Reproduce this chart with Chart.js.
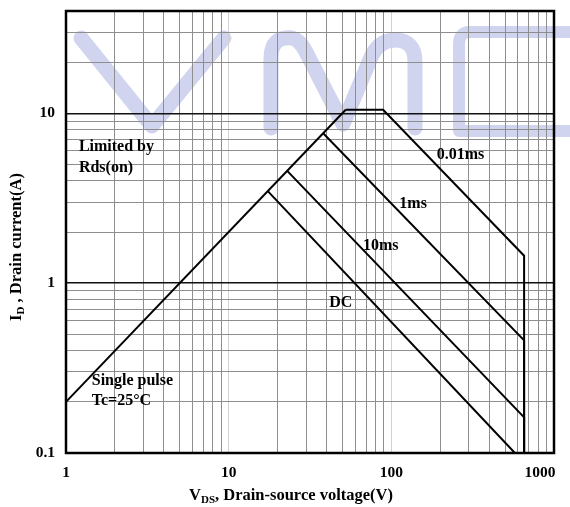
<!DOCTYPE html>
<html>
<head>
<meta charset="utf-8">
<script src="https://cdn.jsdelivr.net/npm/chart.js@4.4.1/dist/chart.umd.min.js"></script>
<style>
  html, body { margin: 0; padding: 0; background: #fff; }
  #wrap { width: 570px; height: 507px; }
</style>
</head>
<body>
<div id="wrap"><canvas id="soa"></canvas></div>
<script>
// safe operating area
const xTicks = [1, 2, 3, 4, 5, 6, 7, 8, 9, 10, 20, 30, 40, 50, 60, 70, 80, 90, 100,
  200, 300, 400, 500, 600, 700, 800, 900, 1000];
const yTicks = [0.1, 0.2, 0.3, 0.4, 0.5, 0.6, 0.7, 0.8, 0.9, 1, 2, 3, 4, 5, 6, 7, 8, 9, 10, 20, 30, 40];
const xLabels = [1, 10, 100, 1000];
const yLabels = [0.1, 1, 10];

const rdsV = [1, 52.4];
const rdsI = [0.2, 10.48];
const p001V = [52.4, 89, 655, 655];
const p001I = [10.48, 10.48, 1.45, 0.1];
const p1msV = [38.1, 655, 655];
const p1msI = [7.62, 0.46, 0.1];
const p10msV = [22.9, 655, 655];
const p10msI = [4.58, 0.162, 0.1];
const dcV = [17.4, 575];
const dcI = [3.48, 0.1];

const notes = [
  { text: 'Limited by', v: 1.2, i: 6.34 },
  { text: 'Rds(on)', v: 1.2, i: 4.77 },
  { text: '0.01ms', v: 190, i: 5.69 },
  { text: '1ms', v: 112, i: 2.93 },
  { text: '10ms', v: 67, i: 1.66 },
  { text: 'DC', v: 41.5, i: 0.763 },
  { text: 'Single pulse', v: 1.44, i: 0.267 },
  { text: 'Tc=25\u00B0C', v: 1.44, i: 0.204 }
];

const pts = (xs, ys) => xs.map((x, k) => ({ x: x, y: ys[k] }));
const serif = '"Liberation Serif", "Times New Roman", serif';

function line(xs, ys) {
  return {
    data: pts(xs, ys),
    borderColor: '#000',
    borderWidth: 2,
    pointRadius: 0,
    tension: 0,
    fill: false
  };
}

// light "VMC" watermark behind the grid
const watermark = {
  id: 'watermark',
  beforeDraw(chart) {
    const c = chart.ctx;
    c.save();
    c.strokeStyle = '#d0d4ef';
    c.lineCap = 'round';
    c.lineJoin = 'round';
    c.lineWidth = 15;
    c.beginPath();
    c.moveTo(81, 38);
    c.lineTo(152, 126);
    c.lineTo(224, 38);
    c.stroke();
    c.beginPath();
    c.moveTo(271, 128);
    c.lineTo(271, 58);
    c.quadraticCurveTo(271, 36, 292, 38);
    c.quadraticCurveTo(300, 40, 306, 52);
    c.lineTo(343, 124);
    c.lineTo(372, 55);
    c.quadraticCurveTo(380, 40, 395, 40);
    c.quadraticCurveTo(415, 40, 415, 62);
    c.lineTo(415, 128);
    c.stroke();
    c.lineWidth = 12;
    c.lineCap = 'butt';
    c.beginPath();
    c.moveTo(575, 32);
    c.lineTo(470, 32);
    c.quadraticCurveTo(459, 32, 459, 44);
    c.lineTo(459, 131);
    c.lineTo(575, 131);
    c.stroke();
    c.restore();
  }
};

function drawSub(c, parts, x, y) {
  // parts: [text, isSub]
  let w = 0;
  parts.forEach(p => {
    c.font = p[1] ? 'bold 11px ' + serif : 'bold 16.5px ' + serif;
    w += c.measureText(p[0]).width;
  });
  let cx = x - w / 2;
  parts.forEach(p => {
    c.font = p[1] ? 'bold 11px ' + serif : 'bold 16.5px ' + serif;
    c.fillText(p[0], cx, p[1] ? y + 4 : y);
    cx += c.measureText(p[0]).width;
  });
}

const frame = {
  id: 'frame',
  afterDraw(chart) {
    const c = chart.ctx;
    const a = chart.chartArea;
    const xs = chart.scales.x;
    const ys = chart.scales.y;
    c.save();
    c.strokeStyle = '#000';
    c.lineWidth = 2.5;
    c.strokeRect(a.left, a.top, a.right - a.left, a.bottom - a.top);

    c.fillStyle = '#000';
    c.textBaseline = 'middle';
    c.font = 'bold 15.5px ' + serif;
    c.textAlign = 'right';
    yLabels.forEach(v => c.fillText(String(v), 55, ys.getPixelForValue(v)));
    c.textAlign = 'center';
    xLabels.forEach(v => {
      let px = xs.getPixelForValue(v);
      if (v === 1000) px -= 14;
      c.fillText(String(v), px, 473);
    });

    c.textAlign = 'left';
    c.font = 'bold 16px ' + serif;
    notes.forEach(n => c.fillText(n.text, xs.getPixelForValue(n.v), ys.getPixelForValue(n.i)));

    drawSub(c, [['V', false], ['DS', true], [', Drain-source voltage(V)', false]], 291, 496);
    c.translate(17, 247);
    c.rotate(-Math.PI / 2);
    drawSub(c, [['I', false], ['D', true], [' , Drain current(A)', false]], 0, 0);
    c.restore();
  }
};

new Chart(document.getElementById('soa'), {
  type: 'line',
  data: {
    datasets: [
      line(rdsV, rdsI),
      line(p001V, p001I),
      line(p1msV, p1msI),
      line(p10msV, p10msI),
      line(dcV, dcI)
    ]
  },
  options: {
    responsive: true,
    maintainAspectRatio: false,
    animation: false,
    layout: { padding: { top: 11, right: 16, left: 0, bottom: 0 } },
    plugins: { legend: { display: false }, tooltip: { enabled: false } },
    scales: {
      x: {
        type: 'logarithmic',
        min: 1,
        max: 1000,
        afterBuildTicks: s => { s.ticks = xTicks.map(v => ({ value: v })); },
        afterFit: s => { s.height = 54; },
        ticks: { display: false },
        border: { display: false },
        grid: {
          drawTicks: false,
          lineWidth: 1,
          color: ctx => {
            const v = ctx.tick && ctx.tick.value;
            if (v === 10 || v === 100) return '#d2d2d2';
            return '#8e8e8e';
          }
        }
      },
      y: {
        type: 'logarithmic',
        min: 0.1,
        max: 40,
        afterBuildTicks: s => { s.ticks = yTicks.map(v => ({ value: v })); },
        afterFit: s => { s.width = 66; },
        ticks: { display: false },
        border: { display: false },
        grid: {
          drawTicks: false,
          lineWidth: ctx => {
            const v = ctx.tick && ctx.tick.value;
            return (v === 1 || v === 10) ? 1.5 : 1;
          },
          color: ctx => {
            const v = ctx.tick && ctx.tick.value;
            if (v === 1 || v === 10) return '#111';
            return '#8e8e8e';
          }
        }
      }
    }
  },
  plugins: [watermark, frame]
});
</script>
</body>
</html>
